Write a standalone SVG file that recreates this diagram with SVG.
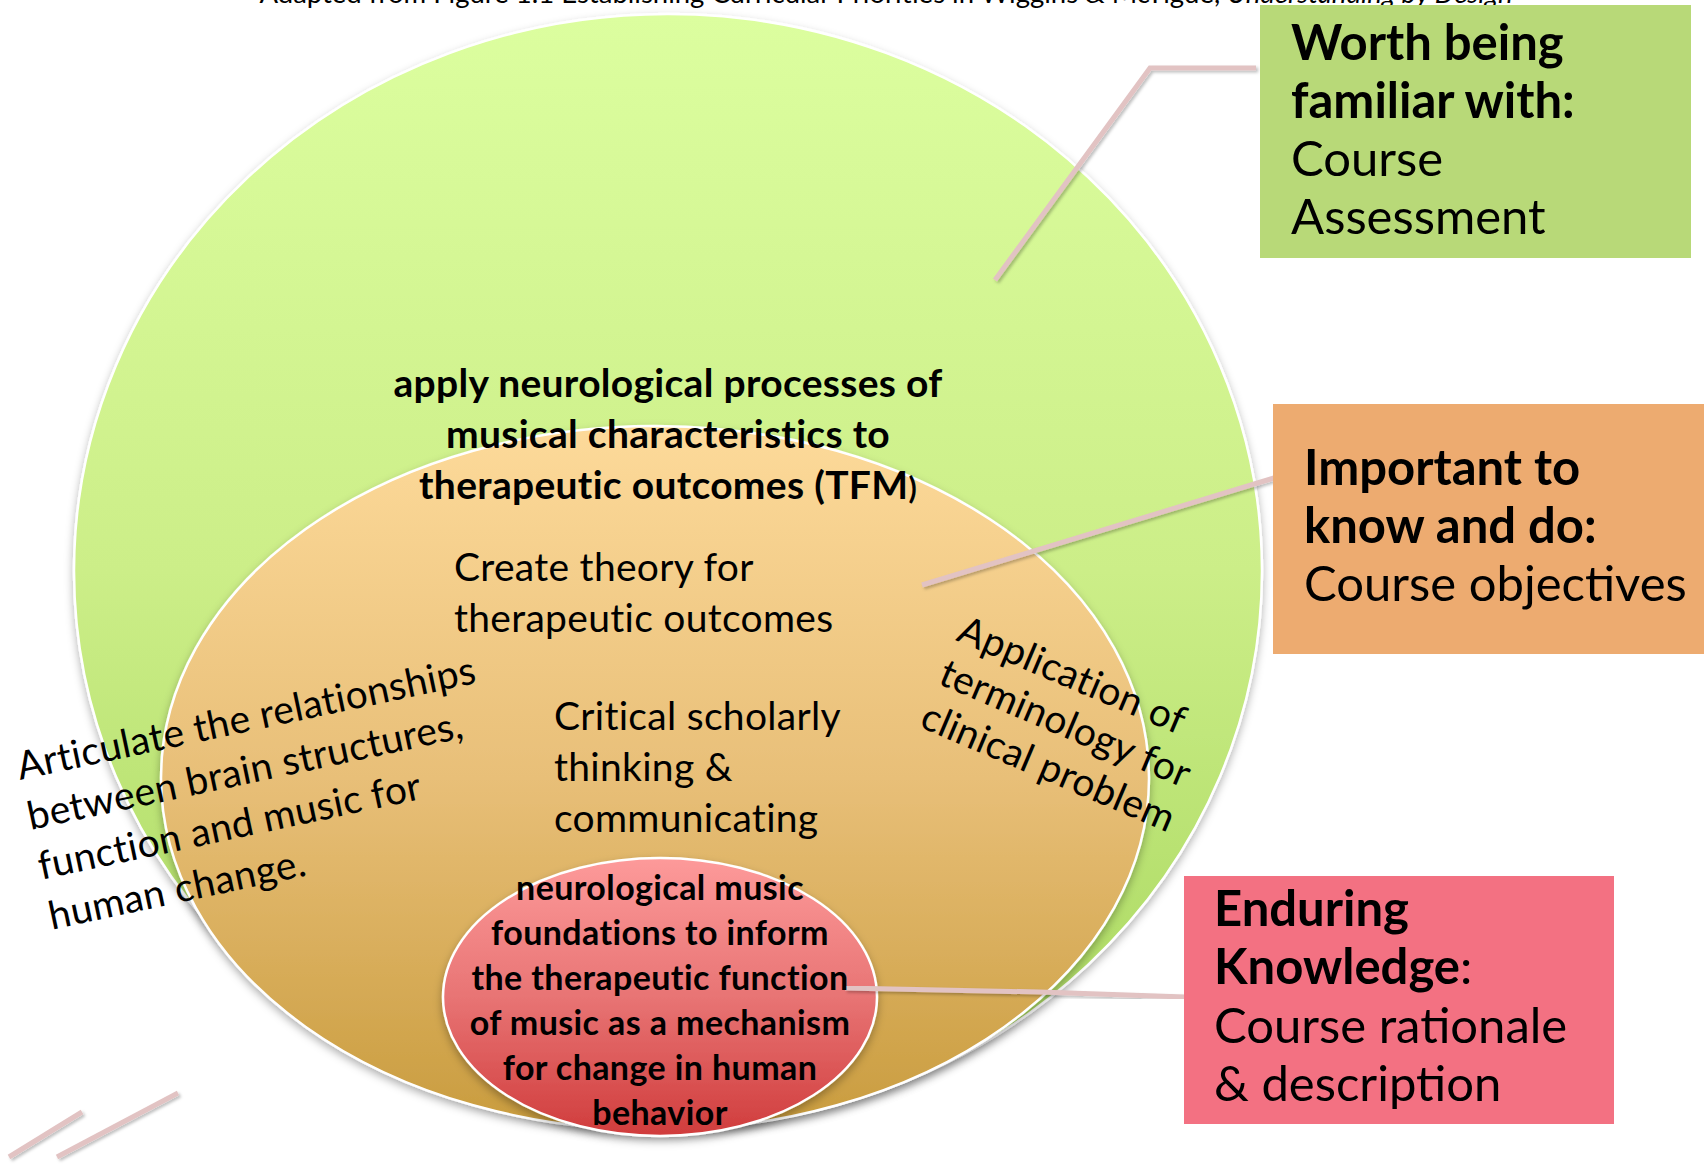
<svg xmlns="http://www.w3.org/2000/svg" width="1704" height="1164" viewBox="0 0 1704 1164">
<defs>
<linearGradient id="gGreen" x1="0" y1="0" x2="0" y2="1">
<stop offset="0" stop-color="#dcfe9f"/>
<stop offset="0.5" stop-color="#ccee88"/>
<stop offset="1" stop-color="#a6d65c"/>
</linearGradient>
<linearGradient id="gOrange" x1="0" y1="0" x2="0" y2="1">
<stop offset="0" stop-color="#fdda9a"/>
<stop offset="0.5" stop-color="#e8bf78"/>
<stop offset="1" stop-color="#c99c3e"/>
</linearGradient>
<linearGradient id="gRed" x1="0" y1="0" x2="0" y2="1">
<stop offset="0" stop-color="#fd9a9a"/>
<stop offset="0.5" stop-color="#e87474"/>
<stop offset="1" stop-color="#d03c3c"/>
</linearGradient>
<filter id="shadow" x="-10%" y="-10%" width="120%" height="130%">
<feDropShadow dx="0" dy="4" stdDeviation="4" flood-color="#000" flood-opacity="0.3"/>
</filter>
<filter id="lshadow" x="-20%" y="-20%" width="140%" height="140%">
<feDropShadow dx="2" dy="2" stdDeviation="1.5" flood-color="#000" flood-opacity="0.25"/>
</filter>
</defs>
<style>
.ell{stroke:#ffffff;stroke-width:2.5}
.box-t{font-family:Lato,"Liberation Sans",sans-serif;font-size:49px;fill:#000}
.b{font-weight:bold}
.mid{font-family:Lato,"Liberation Sans",sans-serif;font-size:39px;letter-spacing:0.3px;fill:#000}
.inn{font-family:Lato,"Liberation Sans",sans-serif;font-size:34px;letter-spacing:0.4px;font-weight:bold;fill:#000;text-anchor:middle}
.conn{fill:none;stroke:#e2c3c3;stroke-width:5;stroke-linejoin:miter;filter:url(#lshadow)}
.title{font-family:Lato,"Liberation Sans",sans-serif;font-size:27.5px;fill:#000;text-anchor:middle}
</style>
<rect width="1704" height="1164" fill="#ffffff"/>

<text class="title" x="886" y="3">Adapted from Figure 1.1 Establishing Curricular Priorities in Wiggins &amp; McTigue, <tspan font-style="italic">Understanding by Design</tspan></text>

<g id="outer-circle">
<ellipse class="ell" cx="668" cy="571" rx="594" ry="557" fill="url(#gGreen)" filter="url(#shadow)"/>
</g>
<g id="middle-circle">
<ellipse class="ell" cx="655" cy="778" rx="494" ry="352" fill="url(#gOrange)" filter="url(#shadow)"/>
</g>
<g id="inner-circle">
<ellipse class="ell" cx="660" cy="997" rx="217" ry="139" fill="url(#gRed)" filter="url(#shadow)"/>
</g>

<g id="connectors">
<polyline class="conn" points="1256,68 1150,68 995,280"/>
<line class="conn" x1="1274" y1="478" x2="922" y2="585"/>
<polyline class="conn" points="1185,997 1040,992 845,988"/>
<line class="conn" x1="9" y1="1157" x2="82" y2="1112"/>
<line class="conn" x1="57" y1="1157" x2="178" y2="1093"/>
</g>

<g id="box-worth">
<rect x="1260" y="5" width="431" height="253" fill="#b8d978"/>
<text class="box-t" x="1291" y="60"><tspan class="b">Worth being</tspan><tspan class="b" x="1291" dy="58">familiar with:</tspan><tspan x="1291" dy="58">Course</tspan><tspan x="1291" dy="58">Assessment</tspan></text>
</g>

<g id="box-important">
<rect x="1273" y="404" width="431" height="250" fill="#edab70"/>
<text class="box-t" x="1304" y="485"><tspan class="b">Important to</tspan><tspan class="b" x="1304" dy="58">know and do:</tspan><tspan x="1304" dy="58">Course objectives</tspan></text>
</g>

<g id="box-enduring">
<rect x="1184" y="876" width="430" height="248" fill="#f37182"/>
<text class="box-t" x="1214" y="926"><tspan class="b">Enduring</tspan><tspan class="b" x="1214" dy="58">Knowledge</tspan><tspan>:</tspan><tspan x="1214" dy="59">Course rationale</tspan><tspan x="1214" dy="58">&amp; description</tspan></text>
</g>

<g id="outer-label">
<text class="mid b" text-anchor="middle" x="668" y="397"><tspan x="668">apply neurological processes of</tspan><tspan x="668" dy="51">musical characteristics to</tspan><tspan x="668" dy="51">therapeutic outcomes (TFM<tspan font-size="30px">)</tspan></tspan></text>
</g>

<g id="middle-labels">
<text class="mid" x="454" y="581"><tspan x="454">Create theory for</tspan><tspan x="454" dy="51">therapeutic outcomes</tspan></text>
<text class="mid" x="554" y="730"><tspan x="554">Critical scholarly</tspan><tspan x="554" dy="51">thinking &amp;</tspan><tspan x="554" dy="51">communicating</tspan></text>
<text class="mid" transform="rotate(-12 20 780)" x="20" y="780"><tspan x="20">Articulate the relationships</tspan><tspan x="20" dy="51">between brain structures,</tspan><tspan x="20" dy="51">function and music for</tspan><tspan x="20" dy="51">human change.</tspan></text>
<text class="mid" transform="rotate(23 955 640)" x="955" y="640"><tspan x="955">Application of</tspan><tspan x="955" dy="47">terminology for</tspan><tspan x="955" dy="47">clinical problem</tspan></text>
</g>

<g id="inner-label">
<text class="inn" x="660" y="900"><tspan x="660">neurological music</tspan><tspan x="660" dy="45">foundations to inform</tspan><tspan x="660" dy="45">the therapeutic function</tspan><tspan x="660" dy="45">of music as a mechanism</tspan><tspan x="660" dy="45">for change in human</tspan><tspan x="660" dy="45">behavior</tspan></text>
</g>
</svg>
